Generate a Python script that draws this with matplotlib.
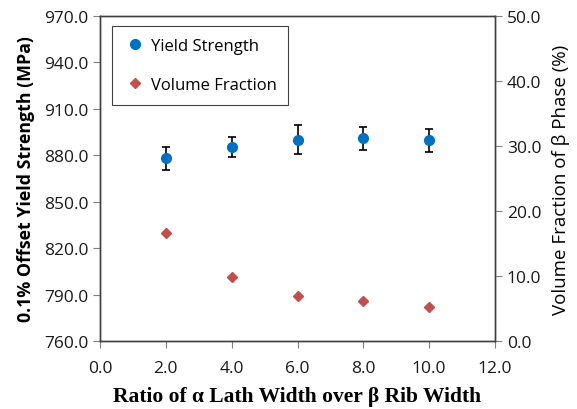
import matplotlib
matplotlib.use("Agg")
import matplotlib.pyplot as plt
from matplotlib.lines import Line2D

ratio = [2.0, 4.0, 6.0, 8.0, 10.0]
yield_strength = [878.0, 885.5, 890.0, 891.0, 889.7]
yield_err = [7.3, 6.5, 9.3, 7.5, 7.5]
volume_fraction = [16.6, 9.9, 7.0, 6.1, 5.3]

x_ticks = [0, 2, 4, 6, 8, 10, 12]
y_left_ticks = [760, 790, 820, 850, 880, 910, 940, 970]
y_right_ticks = [0, 10, 20, 30, 40, 50]

tick_font = "Open Sans"
fig = plt.figure(figsize=(5.77, 4.10), dpi=100)
ax = fig.add_axes([100/577, 1-342/410, 395/577, 325/410])
ax2 = ax.twinx()

ax.errorbar(ratio, yield_strength, yerr=yield_err, fmt='o', color='#0070C0',
            markersize=7, ecolor='black', elinewidth=1.2, capsize=3, capthick=1.2,
            zorder=3)
ax2.plot(ratio, volume_fraction, 'D', color='#C0504D', markersize=5.5)

ax.set_xlim(0, 12)
ax.set_ylim(760, 970)
ax2.set_ylim(0, 50)
ax.set_xticks(x_ticks)
ax.set_yticks(y_left_ticks)
ax2.set_yticks(y_right_ticks)
fs = 12.5
ax.set_xticklabels([f"{v:.1f}" for v in x_ticks], fontfamily=tick_font, fontsize=fs)
ax.set_yticklabels([f"{v:.1f}" for v in y_left_ticks], fontfamily=tick_font, fontsize=fs)
ax2.set_yticklabels([f"{v:.1f}" for v in y_right_ticks], fontfamily=tick_font, fontsize=fs)

for a in (ax, ax2):
    for s in a.spines.values():
        s.set_color('#404040')
        s.set_linewidth(1.0)
    a.tick_params(direction='out', length=5, color='#808080', labelcolor='#1a1a1a')
ax.tick_params(axis='x', pad=9)

ax.set_xlabel("Ratio of α Lath Width over β Rib Width", fontfamily="Liberation Serif",
              fontweight='bold', fontsize=15.5, labelpad=7)
ax.set_ylabel("0.1% Offset Yield Strength (MPa)", fontfamily=tick_font,
              fontweight='bold', fontsize=12.8, labelpad=6)
ax2.set_ylabel("Volume Fraction of β Phase (%)", fontfamily=tick_font,
               fontsize=13.5, labelpad=8)

h1 = Line2D([], [], marker='o', linestyle='none', color='#0070C0', markersize=7)
h2 = Line2D([], [], marker='D', linestyle='none', color='#C0504D', markersize=5.5)
leg = ax.legend([h1, h2], ['Yield Strength', 'Volume Fraction'], loc='upper left',
                bbox_to_anchor=(11.5/395, 1-10/325), fancybox=False, framealpha=1,
                edgecolor='#404040', prop={'family': tick_font, 'size': 12},
                handletextpad=0.25, labelspacing=1.4, borderpad=0.7, handlelength=1.4,
                borderaxespad=0)
leg.get_frame().set_linewidth(0.8)

fig.savefig("out.png", dpi=100)
